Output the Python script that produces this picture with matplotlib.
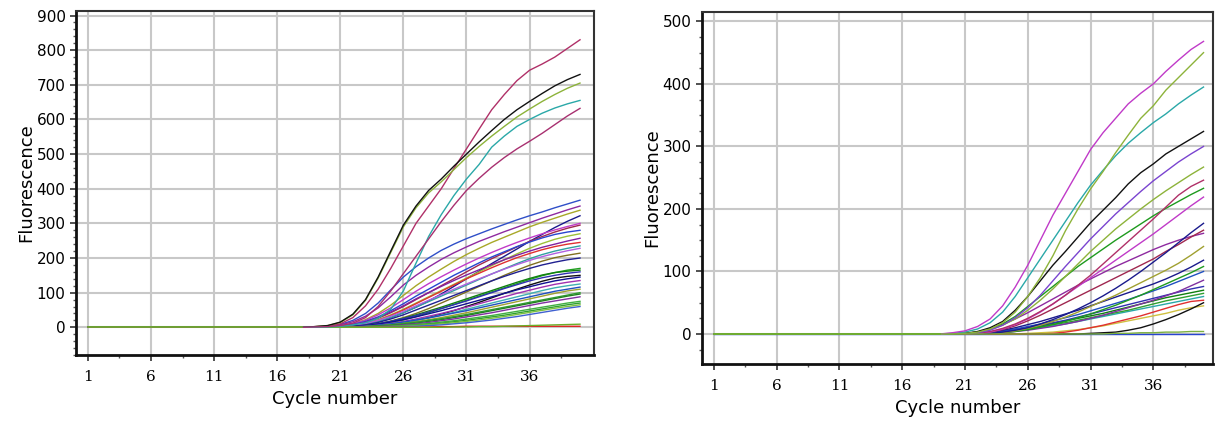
import numpy as np
import matplotlib
matplotlib.use('Agg')
import matplotlib.pyplot as plt
from matplotlib.ticker import MultipleLocator, FixedLocator

# ciclos 1..40; todas las curvas valen 0 hasta el ciclo 17
cycles = np.arange(1, 41)
cycles_rise = np.arange(18, 41)

# ---- panel izquierdo ----
left_colors = [
    '#2f4fc8', '#8e2aa0', '#a8a828', '#1a1a8c', '#c03ac8', '#a02850', '#2845d0',
    '#9cc03a', '#8020a0', '#e03030', '#30a0a0', '#b060e0', '#807020', '#202090',
    '#20a020', '#108010', '#3030b0', '#111111', '#101090', '#a030b0', '#40b0b0',
    '#2050c0', '#a0a030', '#30a030', '#208020', '#8030a0', '#40b040', '#30a030',
    '#7cc040', '#4060d0', '#e02020', '#6ab02a',
    '#b03068', '#8db33a', '#111111', '#2aa8a8', '#a83070',
]
left_curves = [
    [0, 1, 3, 8, 20, 40, 70, 108, 145, 175, 200, 222, 240, 256, 270, 284, 297, 310, 322, 333, 345, 356, 367],
    [0, 1, 2, 7, 16, 32, 56, 88, 122, 150, 174, 196, 215, 232, 248, 262, 276, 289, 302, 315, 327, 339, 350],
    [0, 0, 1, 4, 10, 22, 40, 64, 92, 120, 145, 168, 190, 210, 228, 245, 260, 275, 290, 303, 315, 327, 338],
    [0, 0, 0, 1, 3, 8, 16, 28, 42, 58, 76, 96, 118, 140, 162, 184, 205, 226, 248, 268, 288, 306, 322],
    [0, 0, 1, 4, 10, 20, 36, 56, 80, 104, 126, 146, 165, 183, 200, 216, 231, 245, 258, 270, 281, 291, 300],
    [0, 0, 0, 2, 6, 14, 26, 42, 60, 80, 100, 120, 140, 160, 180, 198, 215, 232, 248, 262, 275, 286, 295],
    [0, 0, 1, 3, 8, 17, 30, 48, 68, 90, 110, 130, 150, 168, 186, 203, 218, 233, 246, 258, 268, 275, 280],
    [0, 0, 0, 2, 5, 12, 22, 36, 52, 70, 88, 106, 124, 142, 160, 178, 195, 212, 228, 242, 254, 263, 270],
    [0, 0, 1, 3, 7, 15, 28, 44, 62, 82, 100, 118, 135, 151, 166, 181, 195, 208, 220, 231, 240, 249, 257],
    [0, 0, 0, 1, 4, 10, 20, 34, 50, 68, 86, 104, 122, 140, 156, 172, 187, 201, 213, 224, 233, 240, 245],
    [0, 0, 0, 1, 3, 8, 16, 28, 42, 58, 74, 90, 106, 122, 138, 154, 169, 184, 198, 210, 220, 228, 235],
    [0, 0, 0, 2, 5, 11, 20, 32, 46, 62, 78, 94, 110, 125, 140, 154, 168, 181, 193, 204, 213, 221, 228],
    [0, 0, 0, 0, 2, 5, 10, 18, 28, 40, 54, 70, 86, 102, 118, 134, 150, 165, 179, 191, 201, 208, 214],
    [0, 0, 0, 1, 3, 7, 14, 24, 36, 50, 64, 78, 92, 106, 120, 134, 147, 159, 170, 180, 188, 195, 200],
    [0, 0, 0, 0, 1, 3, 7, 13, 21, 31, 42, 54, 66, 78, 90, 102, 114, 126, 138, 149, 158, 165, 170],
    [0, 0, 0, 0, 2, 5, 10, 17, 26, 36, 47, 58, 70, 82, 94, 106, 118, 130, 141, 151, 158, 162, 165],
    [0, 0, 0, 1, 2, 5, 10, 17, 25, 34, 44, 54, 65, 76, 88, 100, 112, 123, 134, 143, 150, 156, 160],
    [0, 0, 0, 0, 1, 2, 4, 8, 13, 20, 28, 38, 48, 60, 72, 85, 98, 110, 122, 133, 142, 147, 150],
    [0, 0, 0, 1, 2, 5, 9, 15, 22, 30, 39, 48, 58, 68, 78, 88, 98, 108, 117, 126, 134, 140, 145],
    [0, 0, 0, 0, 1, 3, 6, 11, 17, 24, 32, 40, 49, 58, 68, 78, 88, 98, 107, 116, 124, 130, 135],
    [0, 0, 0, 0, 1, 2, 5, 9, 14, 20, 27, 35, 43, 52, 61, 70, 79, 88, 97, 106, 114, 120, 125],
    [0, 0, 0, 0, 1, 3, 6, 10, 15, 21, 27, 34, 41, 48, 56, 64, 72, 80, 88, 96, 104, 110, 116],
    [0, 0, 0, 0, 0, 2, 4, 7, 11, 16, 22, 28, 35, 42, 50, 58, 66, 74, 82, 90, 98, 105, 110],
    [0, 0, 0, 0, 1, 2, 4, 7, 11, 15, 20, 25, 31, 37, 44, 51, 58, 65, 72, 79, 86, 93, 100],
    [0, 0, 0, 0, 0, 1, 3, 5, 8, 12, 17, 22, 28, 34, 41, 48, 55, 62, 69, 76, 83, 90, 96],
    [0, 0, 0, 0, 0, 1, 2, 4, 7, 10, 14, 19, 24, 30, 36, 42, 49, 56, 63, 70, 76, 82, 88],
    [0, 0, 0, 0, 0, 1, 2, 3, 5, 8, 11, 15, 19, 24, 29, 34, 40, 46, 52, 58, 64, 70, 75],
    [0, 0, 0, 0, 0, 0, 1, 2, 4, 6, 9, 12, 16, 20, 25, 30, 35, 41, 47, 53, 59, 65, 70],
    [0, 0, 0, 0, 0, 0, 1, 2, 3, 5, 7, 10, 13, 17, 21, 26, 31, 37, 43, 49, 55, 60, 65],
    [0, 0, 0, 0, 0, 0, 0, 1, 2, 3, 5, 7, 10, 13, 17, 21, 26, 31, 37, 43, 49, 55, 60],
    [0, 0, 0, 0, 0, 0, 0, 0, 0, 0, 1, 2, 2, 3, 3, 3, 3, 3, 3, 3, 3, 3, 3],
    [0, 0, 0, 0, 0, 0, 0, 0, 0, 0, 0, 0, 1, 1, 2, 2, 3, 4, 5, 6, 7, 8, 9],
    # curvas altas
    [0, 2, 4, 10, 28, 62, 110, 170, 235, 300, 350, 400, 458, 515, 572, 628, 672, 712, 742, 760, 780, 805, 830],
    [0, 2, 5, 14, 36, 78, 142, 216, 290, 345, 388, 420, 455, 490, 522, 552, 580, 607, 630, 652, 672, 690, 705],
    [0, 2, 5, 15, 38, 80, 145, 220, 295, 350, 395, 428, 465, 500, 535, 568, 600, 628, 652, 675, 697, 715, 730],
    [0, 0, 1, 3, 7, 13, 26, 52, 105, 185, 262, 325, 380, 428, 470, 520, 552, 580, 600, 618, 633, 645, 655],
    [0, 1, 2, 5, 12, 28, 60, 105, 155, 205, 255, 305, 352, 395, 430, 462, 490, 515, 537, 560, 585, 610, 632],
]

# ---- panel derecho ----
right_colors = [
    '#2845d0', '#d0c040', '#111111', '#e03030', '#2aa8a8', '#30a030', '#108010',
    '#3030b0', '#8030a0', '#2050c0', '#1e9a1e', '#1a1a8c', '#a0a030', '#8e2aa0',
    '#a02850', '#1a1a8c', '#c03ac8', '#1e9a1e', '#b03068', '#8db33a',
    '#7a44d0', '#111111', '#2aa8a8', '#8db33a', '#c03ac8', '#7cb040',
]
right_curves = [
    [0, 0, 0, 0, 0, 0, 0, 0, 0, 0, 0, 0, 0, 0, 0, 0, 0, 0, 0, 0, 0, 0, 0],
    [0, 0, 0, 0, 0, 0, 0, 0, 1, 2, 3, 5, 7, 10, 13, 17, 21, 25, 29, 33, 38, 42, 45],
    [0, 0, 0, 0, 0, 0, 0, 0, 0, 0, 0, 0, 0, 1, 2, 3, 6, 10, 16, 23, 31, 40, 50],
    [0, 0, 0, 0, 0, 0, 0, 0, 0, 0, 1, 3, 6, 10, 14, 19, 24, 29, 35, 41, 47, 52, 54],
    [0, 0, 0, 0, 1, 2, 3, 5, 7, 10, 13, 16, 20, 24, 28, 32, 36, 40, 44, 48, 52, 56, 60],
    [0, 0, 0, 0, 1, 2, 4, 6, 9, 12, 15, 18, 22, 26, 30, 34, 38, 43, 48, 53, 57, 61, 65],
    [0, 0, 0, 0, 1, 2, 4, 6, 9, 13, 17, 21, 25, 29, 33, 38, 43, 48, 53, 58, 62, 66, 70],
    [0, 0, 0, 0, 1, 2, 4, 7, 10, 14, 18, 22, 27, 32, 37, 42, 47, 52, 57, 62, 67, 72, 76],
    [0, 0, 0, 0, 0, 1, 2, 4, 6, 9, 12, 16, 20, 25, 30, 36, 42, 48, 54, 61, 68, 77, 86],
    [0, 0, 0, 0, 1, 3, 5, 8, 12, 16, 21, 26, 31, 37, 43, 49, 55, 62, 69, 76, 84, 92, 100],
    [0, 0, 0, 0, 0, 1, 2, 4, 7, 11, 15, 20, 26, 32, 39, 46, 54, 62, 71, 80, 89, 98, 108],
    [0, 0, 0, 0, 1, 3, 6, 10, 15, 20, 26, 32, 38, 45, 52, 59, 66, 73, 80, 88, 97, 107, 118],
    [0, 0, 0, 0, 0, 1, 2, 5, 9, 14, 20, 27, 35, 44, 53, 62, 72, 82, 92, 102, 113, 126, 140],
    [0, 0, 0, 1, 3, 8, 15, 24, 34, 45, 56, 67, 78, 88, 98, 108, 117, 126, 135, 143, 150, 156, 161],
    [0, 0, 0, 0, 1, 3, 7, 13, 21, 30, 40, 50, 60, 70, 80, 90, 100, 110, 120, 132, 143, 155, 166],
    [0, 0, 0, 0, 0, 1, 3, 6, 10, 16, 23, 31, 40, 50, 61, 73, 86, 100, 115, 130, 146, 162, 177],
    [0, 0, 0, 0, 1, 3, 8, 15, 24, 35, 48, 62, 76, 90, 104, 118, 132, 146, 160, 175, 190, 205, 219],
    [0, 0, 0, 1, 3, 8, 16, 28, 44, 60, 76, 92, 108, 122, 136, 150, 163, 176, 189, 201, 212, 223, 233],
    [0, 0, 0, 0, 1, 4, 9, 16, 25, 36, 48, 62, 78, 94, 112, 130, 148, 166, 184, 203, 222, 236, 246],
    [0, 0, 0, 1, 3, 7, 14, 24, 38, 54, 72, 92, 112, 132, 150, 168, 184, 200, 215, 229, 242, 255, 267],
    # curvas altas
    [0, 0, 0, 1, 2, 6, 14, 26, 42, 62, 85, 108, 130, 152, 172, 192, 210, 228, 245, 260, 275, 288, 300],
    [0, 0, 0, 1, 4, 10, 20, 38, 60, 85, 110, 132, 155, 178, 198, 218, 240, 258, 272, 288, 300, 312, 324],
    [0, 0, 1, 3, 8, 18, 35, 60, 90, 120, 150, 180, 210, 238, 262, 285, 305, 322, 338, 352, 368, 382, 395],
    [0, 0, 0, 1, 3, 8, 18, 35, 60, 90, 125, 165, 200, 232, 260, 290, 318, 345, 365, 390, 410, 430, 450],
    [0, 0, 2, 5, 12, 24, 45, 75, 110, 150, 190, 225, 260, 295, 322, 345, 368, 385, 400, 420, 438, 455, 468],
    [0, 0, 0, 0, 0, 0, 0, 0, 0, 0, 0, 0, 0, 0, 0, 1, 1, 2, 2, 3, 3, 4, 4],
]

x_ticks = [1, 6, 11, 16, 21, 26, 31, 36]


def full_curve(vals):
    out = np.zeros(len(cycles))
    out[cycles >= cycles_rise[0]] = vals
    return out


def draw_panel(ax, curves, colors, yticks, yminor, ylim, xlim):
    ax.set_xlim(*xlim)
    ax.set_ylim(*ylim)
    for vals, col in zip(curves, colors):
        ax.plot(cycles, full_curve(vals), color=col, lw=1.0)
    ax.set_xticks(x_ticks)
    ax.xaxis.set_minor_locator(FixedLocator([t + 2.5 for t in x_ticks]))
    ax.set_yticks(yticks)
    ax.yaxis.set_minor_locator(MultipleLocator(yminor))
    ax.grid(True, which='major', color='#c8c8c8', lw=1.5)
    ax.set_axisbelow(True)
    ax.tick_params(which='major', direction='out', length=4, width=1.2, color='#333333')
    ax.tick_params(axis='x', which='major', pad=7)
    ax.tick_params(which='minor', direction='out', length=2, width=1.0, color='#555555')
    for lab in ax.get_xticklabels():
        lab.set_fontfamily('DejaVu Serif')
        lab.set_fontsize(11)
    for lab in ax.get_yticklabels():
        lab.set_fontfamily('DejaVu Sans')
        lab.set_fontsize(11)
    for s in ['left', 'bottom']:
        ax.spines[s].set_linewidth(2.0)
        ax.spines[s].set_color('#111111')
    for s in ['top', 'right']:
        ax.spines[s].set_linewidth(1.5)
        ax.spines[s].set_color('#333333')
    ax.set_xlabel('Cycle number', fontsize=13, labelpad=4)
    ax.set_ylabel('Fluorescence', fontsize=13, labelpad=1)


fig = plt.figure(figsize=(12.21, 4.24), dpi=100)
ax1 = fig.add_axes([0.0622, 0.1627, 0.4242, 0.8113])
ax2 = fig.add_axes([0.5749, 0.1415, 0.4185, 0.8302])

draw_panel(ax1, left_curves, left_colors, np.arange(0, 901, 100), 20, (-80, 913), (0.05, 41.1))
draw_panel(ax2, right_curves, right_colors, np.arange(0, 501, 100), 25, (-48, 515), (0.05, 40.75))

# linea base verde encima de todo
ax1.plot(cycles[cycles <= 18], full_curve(left_curves[-1])[cycles <= 18], color='#6ab02a', lw=1.2)
ax2.plot(cycles[cycles <= 19], full_curve(right_curves[-1])[cycles <= 19], color='#6ab02a', lw=1.2)

fig.savefig('out.png', dpi=100)
